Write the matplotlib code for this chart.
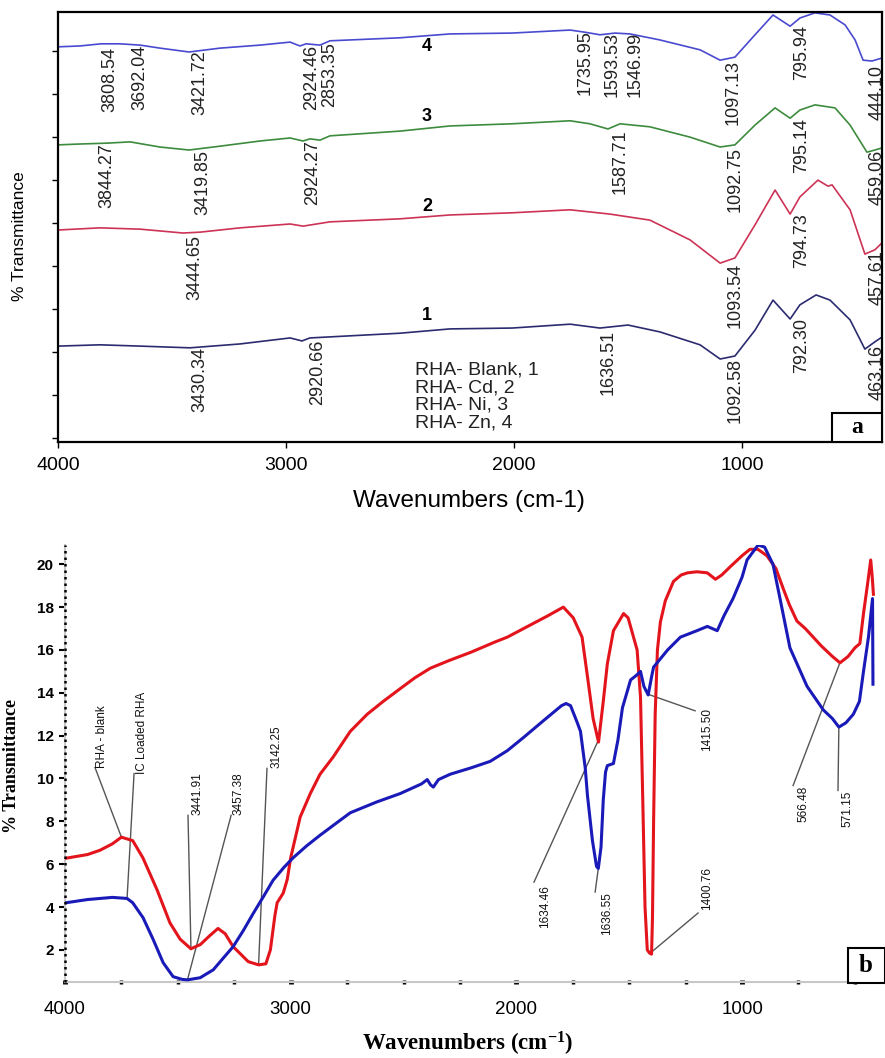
#!/usr/bin/env python3
"""
FTIR spectra of rice husk ash (RHA): (a) blank and metal loaded, (b) blank vs IC loaded
"""

import numpy as np
import matplotlib
matplotlib.use('Agg')
import matplotlib.pyplot as plt
from matplotlib.patches import Rectangle

# ---------------- panel a : stacked spectra (offset units) ----------------
WN_ZN = [4000, 3904, 3811, 3728, 3640, 3553, 3425, 3289, 3114, 2982, 2939, 2912, 2851, 2807,
         2500, 2281, 2009, 1754, 1689, 1623, 1557, 1491, 1360, 1184, 1096, 1031, 943, 864,
         789, 746, 680, 614, 548, 504, 469, 430, 386]
T_ZN = [9.19, 9.21, 9.26, 9.26, 9.23, 9.16, 9.07, 9.16, 9.23, 9.30, 9.21, 9.26, 9.23, 9.33,
        9.40, 9.49, 9.51, 9.58, 9.53, 9.47, 9.51, 9.49, 9.35, 9.12, 8.88, 8.95, 9.47, 9.93,
        9.67, 9.86, 9.98, 9.93, 9.70, 9.35, 8.88, 8.86, 8.93]

WN_NI = [4000, 3904, 3785, 3684, 3553, 3425, 3289, 3114, 2982, 2925, 2895, 2851, 2807, 2500,
         2281, 2009, 1754, 1667, 1588, 1535, 1404, 1228, 1096, 1031, 943, 855, 789, 746,
         680, 592, 526, 452, 417, 386]
T_NI = [6.91, 6.93, 6.95, 6.98, 6.86, 6.79, 6.88, 7.00, 7.07, 7.00, 7.05, 7.02, 7.12, 7.23,
        7.35, 7.40, 7.47, 7.40, 7.28, 7.40, 7.33, 7.09, 6.86, 6.91, 7.37, 7.77, 7.53, 7.72,
        7.84, 7.77, 7.37, 6.74, 6.79, 6.84]

WN_CD = [4000, 3816, 3640, 3452, 3377, 3202, 2982, 2925, 2807, 2500, 2281, 2009, 1754, 1579,
         1404, 1228, 1096, 1031, 943, 855, 789, 746, 667, 623, 605, 526, 461, 417, 386]
T_CD = [4.93, 4.98, 4.95, 4.86, 4.88, 4.98, 5.07, 5.02, 5.12, 5.19, 5.28, 5.33, 5.40, 5.30,
        5.16, 4.70, 4.16, 4.28, 5.05, 5.86, 5.30, 5.70, 6.09, 5.95, 5.98, 5.40, 4.37, 4.47, 4.63]

WN_BLANK = [4000, 3816, 3640, 3421, 3202, 2982, 2930, 2895, 2500, 2281, 2009, 1754, 1623, 1500,
            1360, 1184, 1096, 1031, 943, 864, 789, 746, 675, 614, 526, 461, 417, 386]
T_BLANK = [2.23, 2.26, 2.23, 2.19, 2.28, 2.42, 2.35, 2.42, 2.53, 2.63, 2.65, 2.74, 2.65, 2.72,
           2.56, 2.26, 1.93, 2.00, 2.60, 3.30, 2.86, 3.19, 3.42, 3.30, 2.84, 2.16, 2.33, 2.44]

PEAKS_ZN = ["3808.54", "3692.04", "3421.72", "2924.46", "2853.35", "1735.95", "1593.53",
            "1546.99", "1097.13", "795.94", "444.10"]
PEAKS_NI = ["3844.27", "3419.85", "2924.27", "1587.71", "1092.75", "795.14", "459.06"]
PEAKS_CD = ["3444.65", "1093.54", "794.73", "457.61"]
PEAKS_BLANK = ["3430.34", "2920.66", "1636.51", "1092.58", "792.30", "463.16"]

LEGEND_A = ["RHA- Blank, 1", "RHA- Cd, 2", "RHA- Ni, 3", "RHA- Zn, 4"]

# ---------------- panel b : blank vs IC loaded ----------------
WN_RED = [3995, 3900, 3845, 3790, 3750, 3700, 3655, 3592, 3535, 3490, 3442, 3400, 3360, 3322,
          3290, 3255, 3188, 3142, 3110, 3090, 3070, 3060, 3033, 3015, 3000, 2958, 2913, 2870,
          2812, 2736, 2661, 2590, 2514, 2450, 2381, 2300, 2200, 2100, 2040, 1950, 1860, 1792,
          1748, 1709, 1683, 1660, 1636, 1615, 1597, 1570, 1525, 1505, 1465, 1450, 1440, 1430,
          1420, 1410, 1401, 1397, 1392, 1385, 1375, 1362, 1340, 1304, 1270, 1242, 1200, 1154,
          1118, 1090, 1051, 1000, 965, 930, 890, 850, 819, 790, 757, 720, 698, 650, 600, 566,
          530, 500, 478, 462, 445, 430, 424, 418]
T_RED = [6.28, 6.45, 6.65, 6.95, 7.26, 7.10, 6.30, 4.80, 3.26, 2.50, 2.05, 2.25, 2.65, 3.00,
         2.75, 2.15, 1.45, 1.30, 1.35, 2.00, 3.60, 4.20, 4.65, 5.30, 6.30, 8.20, 9.30, 10.20,
         11.00, 12.20, 13.00, 13.60, 14.20, 14.70, 15.15, 15.50, 15.90, 16.35, 16.60, 17.10,
         17.60, 18.00, 17.50, 16.60, 14.60, 12.80, 11.70, 13.60, 15.35, 16.90, 17.70, 17.50,
         16.00, 13.80, 9.00, 4.00, 2.00, 1.85, 1.80, 3.50, 8.00, 13.00, 16.00, 17.30, 18.30,
         19.20, 19.50, 19.60, 19.65, 19.60, 19.30, 19.50, 19.90, 20.40, 20.70, 20.70, 20.40,
         19.80, 18.90, 18.10, 17.35, 17.00, 16.75, 16.20, 15.70, 15.40, 15.70, 16.10, 16.30,
         17.70, 19.00, 20.20, 19.50, 18.60]

WN_BLUE = [3995, 3900, 3845, 3790, 3725, 3700, 3654, 3610, 3565, 3521, 3480, 3457, 3401, 3343,
           3300, 3255, 3210, 3166, 3120, 3078, 3030, 2989, 2930, 2870, 2800, 2736, 2620, 2514,
           2420, 2395, 2380, 2368, 2345, 2293, 2200, 2116, 2040, 1970, 1880, 1800, 1780, 1760,
           1730, 1716, 1695, 1685, 1663, 1645, 1637, 1625, 1615, 1605, 1597, 1570, 1550, 1530,
           1494, 1470, 1450, 1435, 1416, 1400, 1392, 1330, 1273, 1200, 1154, 1110, 1080, 1040,
           1000, 978, 929, 900, 863, 830, 788, 750, 712, 640, 600, 571, 540, 507, 480, 462,
           440, 422, 420]
T_BLUE = [4.20, 4.35, 4.40, 4.45, 4.40, 4.20, 3.50, 2.50, 1.40, 0.75, 0.62, 0.60, 0.70, 1.07,
          1.60, 2.15, 2.90, 3.70, 4.50, 5.25, 5.85, 6.30, 6.85, 7.35, 7.90, 8.40, 8.90, 9.30,
          9.75, 9.95, 9.70, 9.60, 9.95, 10.20, 10.50, 10.80, 11.30, 11.90, 12.70, 13.40, 13.50,
          13.40, 12.60, 12.20, 10.50, 9.20, 7.10, 5.90, 5.80, 6.80, 9.00, 10.30, 10.60, 10.70,
          11.80, 13.30, 14.60, 14.80, 15.00, 14.30, 13.90, 14.80, 15.20, 16.00, 16.60, 16.90,
          17.10, 16.90, 17.60, 18.40, 19.40, 20.20, 20.90, 20.80, 20.00, 18.30, 16.10, 15.20,
          14.30, 13.20, 12.80, 12.40, 12.60, 13.00, 13.60, 15.00, 16.60, 18.40, 14.40]

B_YTICKS = [2, 4, 6, 8, 10, 12, 14, 16, 18, 20]
X_TICKS = [4000, 3000, 2000, 1000]


def curve_at(wn, xs, ys):
    # spectra are stored high -> low wavenumber, np.interp wants increasing x
    return np.interp(wn, xs[::-1], ys[::-1])


W, H = 885, 1058
fig = plt.figure(figsize=(W / 100, H / 100), dpi=100)
plt.rcParams['font.family'] = ['Liberation Sans', 'DejaVu Sans']
plt.rcParams['mathtext.default'] = 'regular'


def fig_box(x0, y0, x1, y1):
    # pixel box (top-left origin) -> figure fraction rect
    return [x0 / W, 1 - y1 / H, (x1 - x0) / W, (y1 - y0) / H]


# ================= panel a =================
ax1 = fig.add_axes(fig_box(58, 12, 882, 442))
ax1.set_xlim(4000, 386)
ax1.set_ylim(0, 10)

series_a = [
    (WN_BLANK, T_BLANK, '#2b2b70'),
    (WN_CD, T_CD, '#cc3355'),
    (WN_NI, T_NI, '#3d8b3d'),
    (WN_ZN, T_ZN, '#4a4ad0'),
]
for xs, ys, c in series_a:
    ax1.plot(xs, ys, color=c, lw=1.2)

# peak labels: (x, top y) of each rotated label
pos_zn = [(3772, 9.19), (3640, 9.23), (3377, 9.12), (2886, 9.23), (2807, 9.30), (1689, 9.58),
          (1570, 9.53), (1469, 9.53), (1040, 8.88), (737, 9.70), (408, 8.77)]
pos_ni = [(3785, 6.95), (3364, 6.79), (2882, 7.02), (1535, 7.26), (1031, 6.86), (737, 7.53),
          (408, 6.79)]
pos_cd = [(3399, 4.81), (1031, 4.16), (737, 5.33), (408, 4.47)]
pos_blank = [(3377, 2.21), (2860, 2.37), (1588, 2.60), (1031, 1.95), (737, 2.88), (408, 2.26)]
for labels, pos in [(PEAKS_ZN, pos_zn), (PEAKS_NI, pos_ni), (PEAKS_CD, pos_cd),
                    (PEAKS_BLANK, pos_blank)]:
    for s, (x, y) in zip(labels, pos):
        ax1.text(x, y, s, rotation=90, ha='center', va='top', fontsize=13,
                 color='#222222', clip_on=True)

for num, y in zip(['4', '3', '2', '1'], [9.19, 7.56, 5.47, 2.95]):
    ax1.text(2382, y, num, ha='center', va='center', fontsize=13, fontweight='bold')

for i, s in enumerate(LEGEND_A):
    ax1.text(0.433, 0.167 - i * 0.041, s, transform=ax1.transAxes, ha='left', va='center',
             fontsize=14, color='#222222')

ax1.add_patch(Rectangle((0.939, 0), 0.061, 0.068, transform=ax1.transAxes,
                        facecolor='white', edgecolor='black', lw=1.5, zorder=5))
ax1.text(0.9695, 0.034, 'a', transform=ax1.transAxes, ha='center', va='center',
         fontsize=17, fontweight='bold', family='Liberation Serif', zorder=6)

ax1.set_xticks(X_TICKS)
ax1.set_xticklabels([str(t) for t in X_TICKS], fontsize=14)
ax1.set_yticks(np.arange(0.1, 10, 1.0))
ax1.set_yticklabels([])
ax1.tick_params(axis='both', direction='out', length=4, width=1, pad=7)
for sp in ax1.spines.values():
    sp.set_linewidth(1.6)

fig.text(469 / W, 1 - 507 / H, 'Wavenumbers (cm-1)', ha='center', va='baseline', fontsize=17.5)
fig.text(20 / W, 1 - 236 / H, '% Transmittance', rotation=90, ha='center', va='center',
         fontsize=12.5)

# ================= panel b =================
ax2 = fig.add_axes(fig_box(65, 545, 882, 982))
ax2.set_xlim(4000, 380)
ax2.set_ylim(0.5, 20.9)

ax2.plot(WN_RED, T_RED, color='#e3141c', lw=2.2, zorder=3)
ax2.plot(WN_BLUE, T_BLUE, color='#1a1ab8', lw=2.2, zorder=3)

# leader-line annotations: (text, curve, text x, text y, va, line start x, line start y)
notes = [
    ("RHA - blank", 3750, 'red', 3836, 10.51, 'bottom', 3867, 10.51),
    ("IC Loaded RHA", 3725, 'blue', 3659, 10.23, 'bottom', 3694, 10.23),
    ("3441.91", 3441.91, 'red', 3411, 8.28, 'bottom', 3455, 8.28),
    ("3457.38", 3457.38, 'blue', 3233, 8.28, 'bottom', 3264, 8.28),
    ("3142.25", 3142.25, 'red', 3061, 10.47, 'bottom', 3105, 10.47),
    ("1634.46", 1634.46, 'red', 1873, 5.02, 'top', 1922, 5.16),
    ("1636.55", 1636.55, 'blue', 1598, 4.70, 'top', 1651, 4.70),
    ("1400.76", 1400.76, 'red', 1155, 3.86, 'bottom', 1195, 3.72),
    ("1415.50", 1415.50, 'blue', 1155, 13.30, 'top', 1208, 13.16),
    ("566.48", 566.48, 'red', 730, 9.67, 'top', 774, 9.67),
    ("571.15", 571.15, 'blue', 535, 9.44, 'top', 575, 9.44),
]
for s, wn, which, tx, ty, va, lx, ly in notes:
    xs, ys = (WN_RED, T_RED) if which == 'red' else (WN_BLUE, T_BLUE)
    py = curve_at(wn, xs, ys)
    ax2.plot([lx, wn], [ly, py], color='#555555', lw=1.0, zorder=2)
    ax2.text(tx, ty, s, rotation=90, ha='center', va=va, fontsize=8.5, color='#111111')

for side in ['top', 'right']:
    ax2.spines[side].set_visible(False)
ax2.spines['left'].set_color('#c8c8c8')
ax2.spines['left'].set_linewidth(1.5)
ax2.spines['bottom'].set_color('#c8c8c8')
ax2.spines['bottom'].set_linewidth(1.5)
ax2.plot([0, 0], [0, 1], transform=ax2.transAxes, color='black', lw=1.8,
         ls=(0, (1, 1.6)), clip_on=False, zorder=4)

ax2.set_yticks(B_YTICKS)
ax2.set_yticklabels([str(t) for t in B_YTICKS], fontsize=11, fontweight='bold')
ax2.tick_params(axis='y', direction='out', length=4, width=1.5, pad=4, color='black')
ax2.set_xticks(X_TICKS)
ax2.set_xticklabels([str(t) for t in X_TICKS], fontsize=13.5)
ax2.set_xticks(np.arange(4000, 380, -250), minor=True)
ax2.tick_params(axis='x', which='major', direction='inout', length=3.5, width=3.5, pad=12,
                color='black')
ax2.tick_params(axis='x', which='minor', direction='inout', length=2.5, width=2.5,
                color='black')

fig.add_artist(Rectangle((848 / W, 1 - 983 / H), 37 / W, 35 / H, transform=fig.transFigure,
                         facecolor='white', edgecolor='black', lw=1.5, zorder=5))
fig.text(866 / W, 1 - 965 / H, 'b', ha='center', va='center', fontsize=18, fontweight='bold',
         family='Liberation Serif', zorder=6)

fig.text(468 / W, 1 - 1051 / H, r'Wavenumbers (cm$^{-1}$)', ha='center', va='baseline',
         fontsize=16.5, fontweight='bold', family='Liberation Serif')
fig.text(12 / W, 1 - 766 / H, '% Transmittance', rotation=90, ha='center', va='center',
         fontsize=13, fontweight='bold', family='Liberation Serif')

fig.savefig('out.png', dpi=100)
